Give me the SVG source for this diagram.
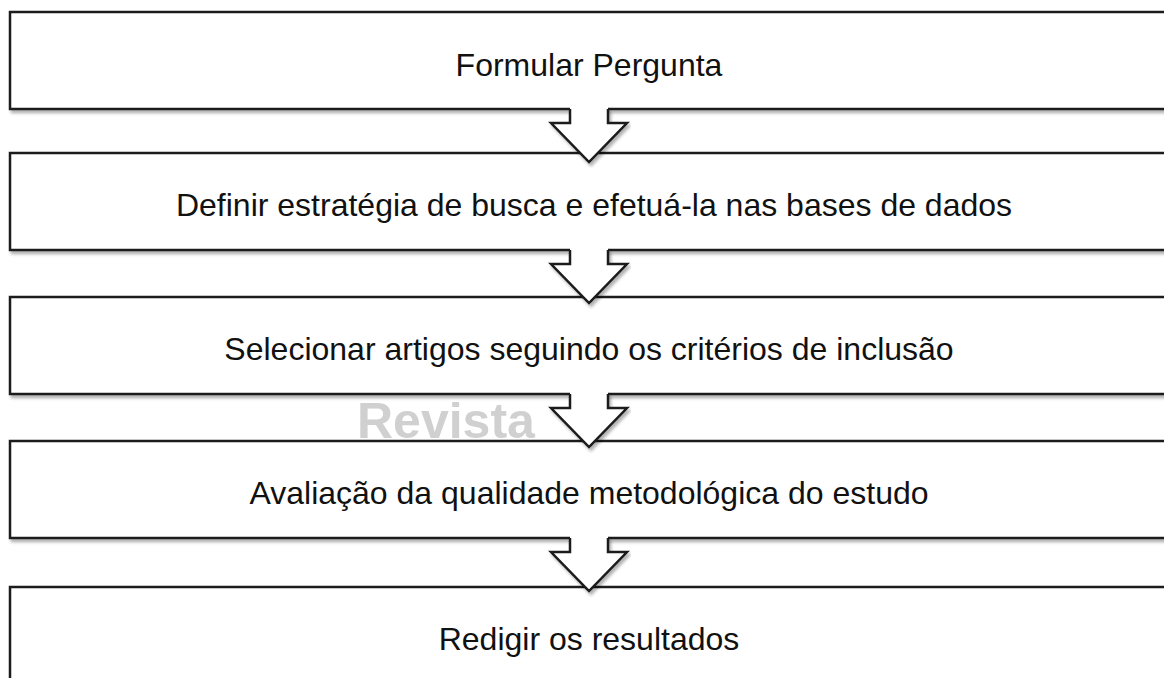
<svg xmlns="http://www.w3.org/2000/svg" width="1164" height="678" viewBox="0 0 1164 678">
<defs>
<filter id="sh" x="-5%" y="-20%" width="110%" height="140%">
<feDropShadow dx="2" dy="3" stdDeviation="1.5" flood-color="#000" flood-opacity="0.3"/>
</filter>
<path id="arr" d="M570,-2 L570,14 L551,14 L589,53 L627,14 L608,14 L608,-2 Z"/>
<path id="arrl" d="M570,0 L570,14 L551,14 L589,53 L627,14 L608,14 L608,0"/>
</defs>
<style>
.box{fill:#fff;stroke:#1a1a1a;stroke-width:2.5}
.lbl{font-family:"Liberation Sans",Arial,sans-serif;font-size:32px;fill:#111;text-anchor:middle}
.af{fill:#fff;stroke:none}
.al{fill:none;stroke:#1a1a1a;stroke-width:2.5;stroke-linejoin:miter}
.wm{font-family:"Liberation Sans",Arial,sans-serif;font-size:50px;font-weight:bold;fill:#d0d0d0}
</style>
<rect width="1164" height="678" fill="#fff"/>
<g id="n1"><rect class="box" x="10" y="12" width="1200" height="97" filter="url(#sh)"/><text class="lbl" x="589" y="76">Formular Pergunta</text></g>
<g id="n2"><rect class="box" x="10" y="153" width="1200" height="97" filter="url(#sh)"/><text class="lbl" x="594" y="216">Definir estratégia de busca e efetuá-la nas bases de dados</text></g>
<g id="n3"><rect class="box" x="10" y="297" width="1200" height="97" filter="url(#sh)"/><text class="lbl" x="589" y="360">Selecionar artigos seguindo os critérios de inclusão</text></g>
<text class="wm" x="357" y="438">Revista</text>
<g id="n4"><rect class="box" x="10" y="441" width="1200" height="97" filter="url(#sh)"/><text class="lbl" x="589" y="504">Avaliação da qualidade metodológica do estudo</text></g>
<g id="n5"><rect class="box" x="10" y="587" width="1200" height="97" filter="url(#sh)"/><text class="lbl" x="589" y="650">Redigir os resultados</text></g>
<g id="connectors">
<g transform="translate(0,109)" filter="url(#sh)"><use href="#arr" class="af"/><use href="#arrl" class="al"/></g>
<g transform="translate(0,250)" filter="url(#sh)"><use href="#arr" class="af"/><use href="#arrl" class="al"/></g>
<g transform="translate(0,394)" filter="url(#sh)"><use href="#arr" class="af"/><use href="#arrl" class="al"/></g>
<g transform="translate(0,538)" filter="url(#sh)"><use href="#arr" class="af"/><use href="#arrl" class="al"/></g>
</g>
</svg>
